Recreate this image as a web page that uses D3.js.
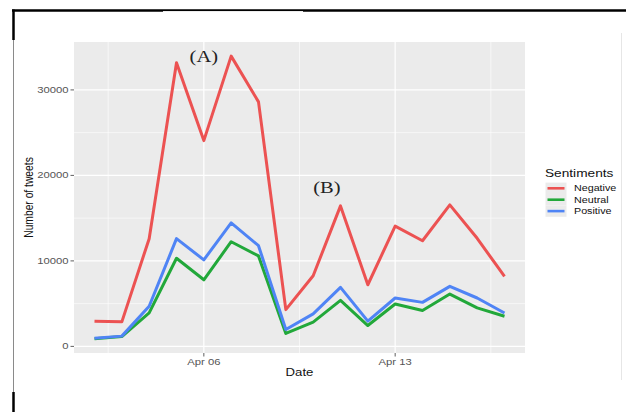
<!DOCTYPE html>
<html>
<head>
<meta charset="utf-8">
<script src="https://cdn.jsdelivr.net/npm/d3@7"></script>
<style>
  html, body { margin: 0; padding: 0; background: #ffffff; }
  svg { display: block; }
</style>
</head>
<body>
<script>
// ---------------- data ----------------
const dates = ["2020-04-02","2020-04-03","2020-04-04","2020-04-05","2020-04-06","2020-04-07","2020-04-08","2020-04-09",
               "2020-04-10","2020-04-11","2020-04-12","2020-04-13","2020-04-14","2020-04-15","2020-04-16","2020-04-17"];
const negative = [2940, 2870, 12600, 33170, 24070, 33950, 28600, 4300, 8260, 16430, 7210, 14070, 12360, 16550, 12640, 8180];
const neutral  = [880, 1150, 3920, 10310, 7790, 12240, 10580, 1510, 2830, 5380, 2440, 4960, 4190, 6120, 4500, 3530];
const positive = [950, 1200, 4690, 12600, 10120, 14450, 11780, 1980, 3800, 6900, 2950, 5660, 5150, 7020, 5660, 3910];
const seriesNames = ["Negative", "Neutral", "Positive"];
const seriesColors = ["#ec5252", "#22a83a", "#4f84f5"];
const yTicks = [0, 10000, 20000, 30000];
const yMinorTicks = [5000, 15000, 25000];
const xTickDates = ["2020-04-06", "2020-04-13"];
const xTickLabels = ["Apr 06", "Apr 13"];
const xMinorDates = ["2020-04-02T12:00", "2020-04-09T12:00", "2020-04-16T12:00"];
const annotations = [{label: "(A)", date: "2020-04-06", value: 33300}, {label: "(B)", date: "2020-04-10T12:00", value: 17900}];
const legendTitle = "Sentiments";
const xTitle = "Date";
const yTitle = "Number of tweets";

// ---------------- setup ----------------
const W = 626, H = 412;
const SX = 1.28; // horizontal stretch of the original image's text
const svg = d3.select("body").append("svg").attr("width", W).attr("height", H);
svg.append("rect").attr("width", W).attr("height", H).attr("fill", "#fff");

const panel = {left: 74, right: 525, top: 42, bottom: 353};
const parse = s => new Date(s.length > 10 ? s + "Z" : s + "T00:00Z");
const dts = dates.map(parse);
const day = 86400000;
const xExt = d3.extent(dts);
const xPad = (xExt[1] - xExt[0]) * 0.05;
const x = d3.scaleUtc().domain([new Date(+xExt[0] - xPad), new Date(+xExt[1] + xPad)]).range([panel.left, panel.right]);

const allVals = negative.concat(neutral, positive);
const yMin = d3.min(allVals), yMax = d3.max(allVals);
const yPad = (yMax - yMin) * 0.05;
const y = d3.scaleLinear().domain([yMin - yPad, yMax + yPad]).range([panel.bottom, panel.top]);

function stext(parent, tx, ty, str, o) {
  const g = parent.append("g").attr("transform", `translate(${tx},${ty}) scale(${o.sx || SX},1)` + (o.rot ? ` rotate(${o.rot})` : ""));
  return g.append("text").text(str)
    .attr("font-family", o.family || "'Liberation Sans', Arial, sans-serif")
    .attr("font-size", o.size)
    .attr("fill", o.fill || "#000")
    .attr("text-anchor", o.anchor || "start")
    .attr("dy", o.dy || 0);
}

// ---------------- frame (scan borders) ----------------
svg.append("line").attr("x1", 12).attr("x2", W).attr("y1", 10.5).attr("y2", 10.5).attr("stroke", "#000").attr("stroke-width", 2.5);
svg.append("line").attr("x1", 163).attr("x2", 303).attr("y1", 11.6).attr("y2", 11.6).attr("stroke", "#fff").attr("stroke-width", 1);
svg.append("line").attr("x1", 13.5).attr("x2", 13.5).attr("y1", 9.5).attr("y2", 40).attr("stroke", "#000").attr("stroke-width", 2.5);
svg.append("line").attr("x1", 13.5).attr("x2", 13.5).attr("y1", 40).attr("y2", 392).attr("stroke", "#8a8a8a").attr("stroke-width", 1);
svg.append("line").attr("x1", 13.5).attr("x2", 13.5).attr("y1", 392).attr("y2", H).attr("stroke", "#000").attr("stroke-width", 2.5);
svg.append("line").attr("x1", 621.5).attr("x2", 621.5).attr("y1", 33).attr("y2", 380).attr("stroke", "#e6e6e6").attr("stroke-width", 1);

// ---------------- panel ----------------
svg.append("rect").attr("x", panel.left).attr("y", panel.top)
  .attr("width", panel.right - panel.left).attr("height", panel.bottom - panel.top).attr("fill", "#ebebeb");

const grid = svg.append("g");
yMinorTicks.forEach(v => grid.append("line").attr("x1", panel.left).attr("x2", panel.right)
  .attr("y1", y(v)).attr("y2", y(v)).attr("stroke", "#fff").attr("stroke-width", 0.6));
xMinorDates.map(parse).forEach(d => grid.append("line").attr("y1", panel.top).attr("y2", panel.bottom)
  .attr("x1", x(d)).attr("x2", x(d)).attr("stroke", "#fff").attr("stroke-width", 0.6));
yTicks.forEach(v => grid.append("line").attr("x1", panel.left).attr("x2", panel.right)
  .attr("y1", y(v)).attr("y2", y(v)).attr("stroke", "#fff").attr("stroke-width", 1.2));
xTickDates.map(parse).forEach(d => grid.append("line").attr("y1", panel.top).attr("y2", panel.bottom)
  .attr("x1", x(d)).attr("x2", x(d)).attr("stroke", "#fff").attr("stroke-width", 1.2));

// ---------------- lines ----------------
const seriesData = [negative, neutral, positive];
const line = d3.line().x((d, i) => x(dts[i])).y(d => y(d));
seriesData.forEach((vals, k) => {
  svg.append("path").datum(vals).attr("d", line)
    .attr("fill", "none").attr("stroke", seriesColors[k]).attr("stroke-width", 3)
    .attr("stroke-linejoin", "round").attr("stroke-linecap", "butt");
});

// ---------------- axes ----------------
const yAxis = svg.append("g");
yTicks.forEach(v => {
  yAxis.append("line").attr("x1", panel.left - 3.5).attr("x2", panel.left).attr("y1", y(v)).attr("y2", y(v))
    .attr("stroke", "#4d4d4d").attr("stroke-width", 0.9);
  stext(yAxis, panel.left - 5.5, y(v), String(v), {size: 8.8, fill: "#555", anchor: "end", dy: "0.35em"});
});
const xAxis = svg.append("g");
xTickDates.map(parse).forEach((d, i) => {
  xAxis.append("line").attr("x1", x(d)).attr("x2", x(d)).attr("y1", panel.bottom).attr("y2", panel.bottom + 3.5)
    .attr("stroke", "#4d4d4d").attr("stroke-width", 0.9);
  stext(xAxis, x(d), 364.5, xTickLabels[i], {size: 8.8, fill: "#555", anchor: "middle"});
});
stext(svg, (panel.left + panel.right) / 2, 376, xTitle, {size: 11, sx: 1.2, fill: "#111", anchor: "middle"});
stext(svg, 32.5, (panel.top + panel.bottom) / 2, yTitle, {size: 10.3, sx: 1.25, fill: "#111", anchor: "middle", rot: -90});

// ---------------- annotations ----------------
annotations.forEach(a => {
  stext(svg, x(parse(a.date)), y(a.value), a.label,
    {size: 16, sx: 1.28, fill: "#222", anchor: "middle", family: "'Liberation Serif', 'Times New Roman', serif"});
});

// ---------------- legend ----------------
const lg = svg.append("g");
stext(lg, 545, 176.5, legendTitle, {size: 10.7, fill: "#111"});
seriesNames.forEach((name, i) => {
  const cy = 188.3 + i * 11.4;
  lg.append("rect").attr("x", 545.5).attr("y", cy - 5.7).attr("width", 21).attr("height", 11.4).attr("fill", "#ebebeb");
  lg.append("line").attr("x1", 547.5).attr("x2", 564.5).attr("y1", cy).attr("y2", cy)
    .attr("stroke", seriesColors[i]).attr("stroke-width", 2.6);
  stext(lg, 574, cy, name, {size: 8.8, sx: 1.22, fill: "#111", dy: "0.35em"});
});
</script>
</body>
</html>
